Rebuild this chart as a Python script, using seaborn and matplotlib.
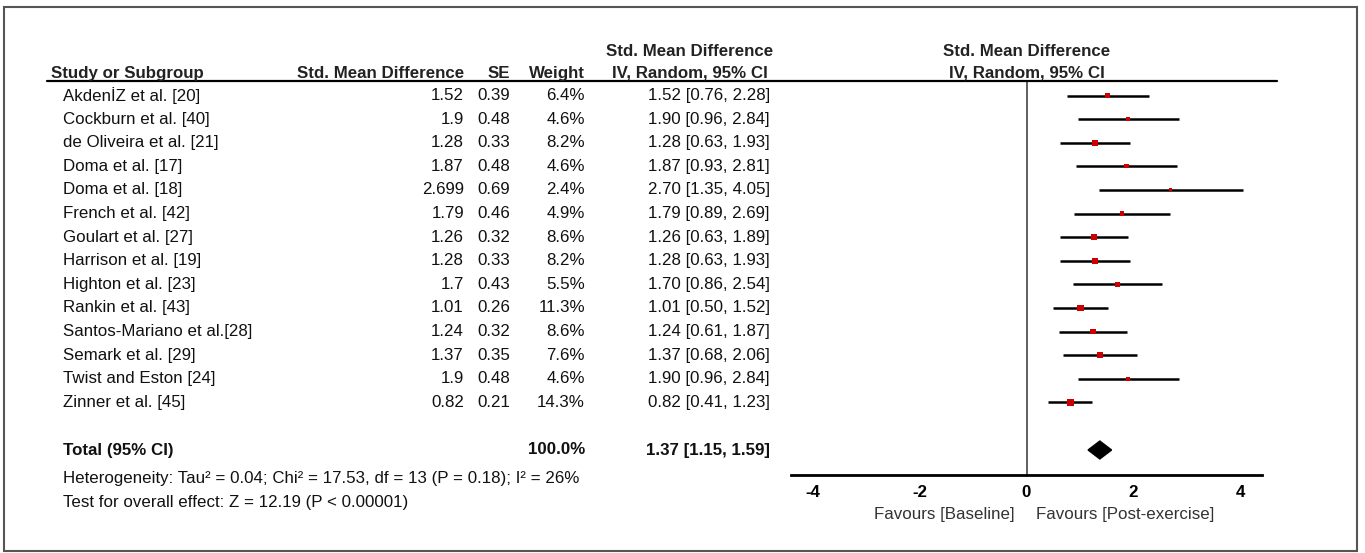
import numpy as np
import pandas as pd
import matplotlib
matplotlib.use("Agg")
import matplotlib.pyplot as plt
import matplotlib.transforms as mtransforms
from matplotlib.patches import Polygon, Rectangle
from matplotlib.lines import Line2D
import seaborn as sns

# study-level data
studies = ["AkdenİZ et al. [20]", "Cockburn et al. [40]", "de Oliveira et al. [21]",
           "Doma et al. [17]", "Doma et al. [18]", "French et al. [42]",
           "Goulart et al. [27]", "Harrison et al. [19]", "Highton et al. [23]",
           "Rankin et al. [43]", "Santos-Mariano et al.[28]", "Semark et al. [29]",
           "Twist and Eston [24]", "Zinner et al. [45]"]
smd = [1.52, 1.9, 1.28, 1.87, 2.699, 1.79, 1.26, 1.28, 1.7, 1.01, 1.24, 1.37, 1.9, 0.82]
se = [0.39, 0.48, 0.33, 0.48, 0.69, 0.46, 0.32, 0.33, 0.43, 0.26, 0.32, 0.35, 0.48, 0.21]
weight = [6.4, 4.6, 8.2, 4.6, 2.4, 4.9, 8.6, 8.2, 5.5, 11.3, 8.6, 7.6, 4.6, 14.3]
ci_low = [0.76, 0.96, 0.63, 0.93, 1.35, 0.89, 0.63, 0.63, 0.86, 0.50, 0.61, 0.68, 0.96, 0.41]
ci_high = [2.28, 2.84, 1.93, 2.81, 4.05, 2.69, 1.89, 1.93, 2.54, 1.52, 1.87, 2.06, 2.84, 1.23]

total_est, total_low, total_high = 1.37, 1.15, 1.59
total_weight = 100.0
heterogeneity = "Heterogeneity: Tau² = 0.04; Chi² = 17.53, df = 13 (P = 0.18); I² = 26%"
overall = "Test for overall effect: Z = 12.19 (P < 0.00001)"
xticks = [-4, -2, 0, 2, 4]

df = pd.DataFrame({"study": studies, "smd": smd, "se": se, "weight": weight,
                   "low": ci_low, "high": ci_high})
df["row"] = np.arange(len(df))
total_row = len(df) + 1

sns.set_style("white")
plt.rcParams['font.family'] = ['Liberation Sans', 'DejaVu Sans']
FS = 12.2
INK = "#111111"

W, H = 1365, 553
fig = plt.figure(figsize=(W / 100, H / 100), dpi=100)


def fx(p):
    return p / W


def fy(p):
    return 1 - p / H


# forest panel: x from -4.4 to 4.4, rows top to bottom
ax = fig.add_axes([fx(791), fy(475), (1262 - 791) / W, (475 - 81) / H])
ax.set_xlim(-4.4, 4.4)
ax.set_ylim((475 - 95.5) / 23.6, (81 - 95.5) / 23.6)

ax.axvline(0, color="#444444", lw=1.2, zorder=1)
ax.hlines(df["row"], df["low"], df["high"], color="black", lw=1.8, zorder=2)
sns.scatterplot(data=df, x="smd", y="row", size="weight",
                sizes=(2.0 * min(weight), 2.0 * max(weight)),
                size_norm=(min(weight), max(weight)),
                marker="s", color="#cc0000", edgecolor="none",
                legend=False, ax=ax, zorder=3)

h = 0.38
total_y = (450 - 95.5) / 23.6
ax.add_patch(Polygon([(total_low, total_y), (total_est, total_y - h),
                      (total_high, total_y), (total_est, total_y + h)],
                     closed=True, facecolor="black", edgecolor="black", zorder=3))

for side in ["top", "left", "right"]:
    ax.spines[side].set_visible(False)
ax.spines["bottom"].set_linewidth(2)
ax.spines["bottom"].set_color("black")
ax.set_yticks([])
ax.set_xticks(xticks)
ax.set_xticklabels([str(t) for t in xticks], fontweight="bold", fontsize=FS)
ax.tick_params(axis="x", direction="inout", length=10, width=1.5, pad=2,
               colors="black")
ax.set_xlabel("")
ax.set_ylabel("")
ax.patch.set_alpha(0)

# table columns (figure x, data y)
trans = mtransforms.blended_transform_factory(fig.transFigure, ax.transData)
x_head, x_name, x_smd, x_se, x_w, x_ci = 51, 63, 464, 510, 585, 770

for r in df.itertuples():
    ax.text(fx(x_name), r.row, r.study, transform=trans, ha="left", va="center",
            fontsize=FS, color=INK)
    ax.text(fx(x_smd), r.row, "{:g}".format(r.smd), transform=trans, ha="right",
            va="center", fontsize=FS, color=INK)
    ax.text(fx(x_se), r.row, "{:g}".format(r.se), transform=trans, ha="right",
            va="center", fontsize=FS, color=INK)
    ax.text(fx(x_w), r.row, "{:.1f}%".format(r.weight), transform=trans, ha="right",
            va="center", fontsize=FS, color=INK)
    ax.text(fx(x_ci), r.row, "{:.2f} [{:.2f}, {:.2f}]".format(r.smd, r.low, r.high),
            transform=trans, ha="right", va="center", fontsize=FS, color=INK)

ax.text(fx(x_name), total_y, "Total (95% CI)", transform=trans, ha="left",
        va="center", fontsize=FS, fontweight="bold", color=INK)
ax.text(fx(x_w), total_y, "{:.1f}%".format(total_weight), transform=trans,
        ha="right", va="center", fontsize=FS, fontweight="bold", color=INK)
ax.text(fx(x_ci), total_y,
        "{:.2f} [{:.2f}, {:.2f}]".format(total_est, total_low, total_high),
        transform=trans, ha="right", va="center", fontsize=FS, fontweight="bold",
        color=INK)

fig.text(fx(x_name), fy(478), heterogeneity, ha="left", va="center",
         fontsize=FS, color=INK)
fig.text(fx(x_name), fy(503), overall, ha="left", va="center",
         fontsize=FS, color=INK)

# headers
hdr = dict(fontsize=FS, fontweight="bold", color="#222222", va="baseline")
fig.text(fx(x_head), fy(78), "Study or Subgroup", ha="left", **hdr)
fig.text(fx(x_smd), fy(78), "Std. Mean Difference", ha="right", **hdr)
fig.text(fx(x_se), fy(78), "SE", ha="right", **hdr)
fig.text(fx(x_w), fy(78), "Weight", ha="right", **hdr)
fig.text(fx(690), fy(56), "Std. Mean Difference", ha="center", **hdr)
fig.text(fx(690), fy(78), "IV, Random, 95% CI", ha="center", **hdr)
fig.text(fx(1027), fy(56), "Std. Mean Difference", ha="center", **hdr)
fig.text(fx(1027), fy(78), "IV, Random, 95% CI", ha="center", **hdr)

fig.text(fx(1015), fy(515), "Favours [Baseline]", ha="right", va="center",
         fontsize=FS, color="#333333")
fig.text(fx(1036), fy(515), "Favours [Post-exercise]", ha="left", va="center",
         fontsize=FS, color="#333333")

fig.add_artist(Line2D([fx(47), fx(1277)], [fy(81), fy(81)], color="black", lw=1.6))
fig.add_artist(Rectangle((fx(4), fy(551)), (1357 - 4) / W, (551 - 7) / H,
                         fill=False, edgecolor="#555555", lw=1.5))

fig.savefig("out.png", dpi=100)
